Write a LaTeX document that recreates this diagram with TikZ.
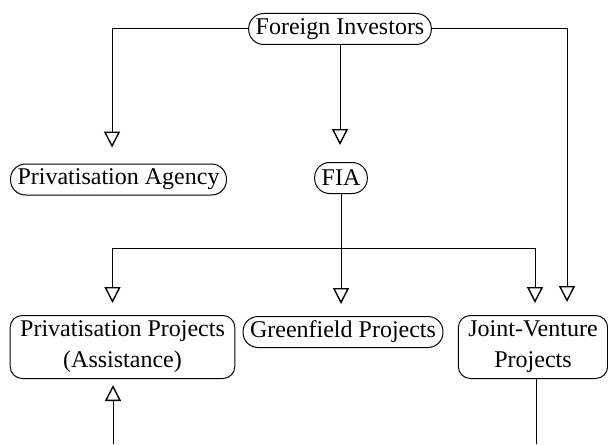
\documentclass[tikz,border=0pt]{standalone}
\usepackage{fontspec}
\setmainfont{Liberation Serif}
\usetikzlibrary{arrows.meta}
\tikzset{
pill/.style={draw,rounded corners=7.5pt,minimum height=15.5pt,inner xsep=3.5pt,inner ysep=0pt,font=\fontsize{12}{15.5}\selectfont},
twoline/.style={draw,rounded corners=6pt,minimum height=31.5pt,align=center,inner xsep=5pt,inner ysep=0pt,font=\fontsize{12}{15.5}\selectfont},
arr/.style={-{Triangle[open,length=8pt,width=8pt,line width=0.7pt]},shorten >=6pt}
}
\begin{document}
\begin{tikzpicture}[x=0.5pt,y=-0.5pt,line width=0.5pt]
\useasboundingbox (0,0) rectangle (608,444);
\path
(340,29) node[pill](FI){Foreign Investors}
(118.5,179.5) node[pill](PA){Privatisation Agency}
(341,178) node[pill](FIA){FIA}
(122.5,347) node[twoline](PP){Privatisation Projects\\(Assistance)}
(343,332) node[pill](GP){Greenfield Projects}
(533,347) node[twoline](JV){Joint-Venture\\Projects};
\coordinate (BR) at ([yshift=-27pt]FIA.south);
\coordinate (PPin) at (113,444);
\coordinate (JVout) at (536,444);
\path[draw,arr,shorten >=8pt] (FI.west) -| ([xshift=-3.25pt]PA.north);
\path[draw,arr,shorten >=8.5pt] (FI.south) -- (FI.south |- FIA.north);
\path[draw,arr,shorten >=6.5pt] (FI.east) -| ([xshift=17pt]JV.north);
\path[draw] (FIA.south) -- (BR);
\path[draw,arr] (BR) -| ([xshift=-5pt]PP.north);
\path[draw,arr] (BR) -- (BR |- GP.north);
\path[draw,arr] (BR) -| ([xshift=1pt]JV.north);
\path[draw,arr,shorten >=3pt] (PPin) -- (PPin |- PP.south);
\path[draw] (JVout |- JV.south) -- (JVout);
\end{tikzpicture}
\end{document}
